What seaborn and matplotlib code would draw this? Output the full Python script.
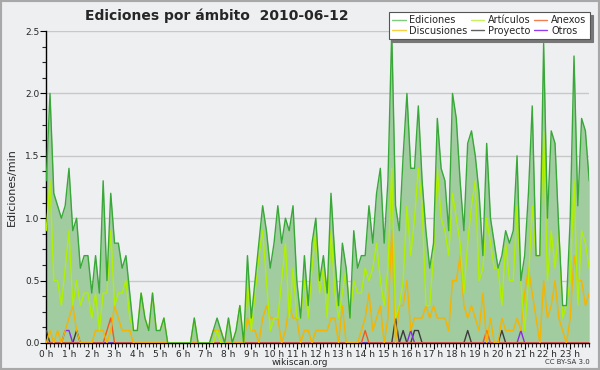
import seaborn as sns
import matplotlib.pyplot as plt
import matplotlib.ticker as ticker
import pandas as pd
from matplotlib.lines import Line2D
from matplotlib.patches import Rectangle

# one value every 10 minutes, 144 per day (ediciones por minuto)
ediciones = [
    1.3, 2.0, 1.2, 1.1, 1.0, 1.1, 1.4, 0.9, 1.0, 0.6, 0.7, 0.7,
    0.4, 0.7, 0.4, 1.3, 0.5, 1.2, 0.8, 0.8, 0.6, 0.7, 0.4, 0.1,
    0.1, 0.4, 0.2, 0.1, 0.4, 0.1, 0.1, 0.2, 0.0, 0.0, 0.0, 0.0,
    0.0, 0.0, 0.0, 0.2, 0.0, 0.0, 0.0, 0.0, 0.1, 0.2, 0.1, 0.0,
    0.2, 0.0, 0.1, 0.3, 0.0, 0.7, 0.2, 0.5, 0.8, 1.1, 0.9, 0.6,
    0.8, 1.1, 0.8, 1.0, 0.9, 1.1, 0.5, 0.2, 0.7, 0.3, 0.8, 1.0,
    0.5, 0.7, 0.4, 1.2, 0.7, 0.3, 0.8, 0.6, 0.2, 0.9, 0.6, 0.7,
    0.7, 1.1, 0.8, 1.2, 1.4, 0.8, 1.3, 2.5, 1.1, 0.9, 1.5, 2.0,
    1.4, 1.4, 1.9, 1.3, 0.9, 0.6, 0.8, 1.8, 1.4, 1.3, 0.9, 2.0,
    1.8, 1.3, 0.9, 1.6, 1.7, 1.5, 1.2, 0.7, 1.6, 1.0, 0.8, 0.6,
    0.7, 0.9, 0.8, 0.9, 1.5, 0.5, 0.7, 1.2, 1.9, 0.7, 0.7, 2.4,
    1.0, 1.7, 1.6, 0.9, 0.3, 0.3, 1.0, 2.3, 1.1, 1.8, 1.7, 1.3,
]
articulos = [
    0.9, 1.3, 0.5, 0.5, 0.3, 0.6, 0.9, 0.3, 0.5, 0.3, 0.4, 0.4,
    0.2, 0.4, 0.1, 0.4, 0.4, 0.9, 0.3, 0.4, 0.4, 0.5, 0.2, 0.1,
    0.1, 0.4, 0.2, 0.1, 0.4, 0.1, 0.1, 0.2, 0.0, 0.0, 0.0, 0.0,
    0.0, 0.0, 0.0, 0.2, 0.0, 0.0, 0.0, 0.0, 0.0, 0.1, 0.0, 0.0,
    0.2, 0.0, 0.1, 0.3, 0.0, 0.5, 0.1, 0.4, 0.7, 0.9, 0.5, 0.1,
    0.2, 0.2, 0.5, 0.8, 0.2, 0.6, 0.2, 0.2, 0.5, 0.2, 0.6, 0.9,
    0.4, 0.6, 0.2, 0.9, 0.4, 0.2, 0.4, 0.6, 0.2, 0.5, 0.4, 0.4,
    0.6, 0.5, 0.6, 0.8, 0.5, 0.3, 0.6, 1.4, 0.2, 0.3, 0.5, 1.1,
    0.7, 1.0, 1.4, 1.1, 0.3, 0.3, 0.7, 1.4, 1.0, 0.9, 0.7, 1.2,
    1.0, 0.8, 0.4, 0.8, 1.1, 1.3, 0.5, 0.6, 1.0, 0.8, 0.6, 0.6,
    0.3, 0.8, 0.5, 0.5, 1.1, 0.5, 0.1, 0.5, 1.1, 0.7, 0.7, 1.7,
    0.5, 0.9, 0.6, 0.9, 0.2, 0.3, 0.5, 1.3, 0.3, 0.9, 0.8, 0.6,
]
discusiones = [
    0.0, 0.1, 0.0, 0.1, 0.0, 0.1, 0.2, 0.3, 0.1, 0.0, 0.0, 0.0,
    0.0, 0.1, 0.1, 0.1, 0.0, 0.1, 0.3, 0.2, 0.1, 0.1, 0.1, 0.0,
    0.0, 0.0, 0.0, 0.0, 0.0, 0.0, 0.0, 0.0, 0.0, 0.0, 0.0, 0.0,
    0.0, 0.0, 0.0, 0.0, 0.0, 0.0, 0.0, 0.0, 0.1, 0.1, 0.1, 0.0,
    0.0, 0.0, 0.0, 0.0, 0.0, 0.2, 0.1, 0.1, 0.0, 0.2, 0.3, 0.2,
    0.2, 0.2, 0.0, 0.1, 0.3, 0.2, 0.2, 0.0, 0.1, 0.1, 0.0, 0.1,
    0.1, 0.1, 0.1, 0.2, 0.2, 0.0, 0.3, 0.0, 0.0, 0.0, 0.0, 0.1,
    0.2, 0.4, 0.1, 0.2, 0.3, 0.0, 0.2, 0.9, 0.0, 0.3, 0.3, 0.5,
    0.1, 0.2, 0.2, 0.2, 0.3, 0.2, 0.3, 0.2, 0.2, 0.2, 0.1, 0.5,
    0.5, 0.7, 0.3, 0.2, 0.3, 0.2, 0.1, 0.4, 0.0, 0.2, 0.0, 0.0,
    0.2, 0.1, 0.1, 0.1, 0.2, 0.1, 0.4, 0.6, 0.4, 0.2, 0.0, 0.5,
    0.2, 0.3, 0.5, 0.2, 0.1, 0.0, 0.2, 0.7, 0.5, 0.5, 0.3, 0.4,
]
anexos = [
    0, 0, 0, 0, 0, 0, 0, 0, 0, 0, 0, 0,
    0, 0, 0, 0, 0.1, 0.2, 0, 0, 0, 0, 0, 0,
    0, 0, 0, 0, 0, 0, 0, 0, 0, 0, 0, 0,
    0, 0, 0, 0, 0, 0, 0, 0, 0, 0, 0, 0,
    0, 0, 0, 0, 0, 0, 0, 0, 0, 0, 0, 0,
    0, 0, 0, 0, 0, 0, 0, 0, 0, 0, 0, 0,
    0, 0, 0, 0, 0, 0, 0, 0, 0, 0, 0, 0,
    0.1, 0, 0, 0, 0, 0, 0, 0, 0, 0, 0, 0,
    0, 0, 0, 0, 0, 0, 0, 0, 0, 0, 0, 0,
    0, 0, 0, 0, 0, 0, 0, 0, 0.1, 0, 0, 0,
    0, 0, 0, 0, 0, 0, 0, 0, 0, 0, 0, 0,
    0, 0, 0, 0, 0, 0, 0, 0, 0, 0, 0, 0,
]
proyecto = [
    0.1, 0, 0, 0, 0, 0, 0, 0, 0.1, 0, 0, 0,
    0, 0, 0, 0, 0, 0, 0, 0, 0, 0, 0, 0,
    0, 0, 0, 0, 0, 0, 0, 0, 0, 0, 0, 0,
    0, 0, 0, 0, 0, 0, 0, 0, 0, 0, 0, 0,
    0, 0, 0, 0, 0, 0, 0, 0, 0, 0, 0, 0,
    0, 0, 0, 0, 0, 0, 0, 0, 0, 0, 0, 0,
    0, 0, 0, 0, 0, 0, 0, 0, 0, 0, 0, 0,
    0, 0, 0, 0, 0, 0, 0, 0, 0.2, 0, 0.1, 0,
    0, 0.1, 0.1, 0, 0, 0, 0, 0, 0, 0, 0, 0,
    0, 0, 0, 0.1, 0, 0, 0, 0, 0, 0, 0, 0,
    0.1, 0, 0, 0, 0, 0, 0, 0, 0, 0, 0, 0,
    0, 0, 0, 0, 0, 0, 0, 0, 0, 0, 0, 0,
]
otros = [
    0, 0, 0, 0, 0, 0.1, 0.1, 0, 0, 0, 0, 0,
    0, 0, 0, 0, 0, 0, 0, 0, 0, 0, 0, 0,
    0, 0, 0, 0, 0, 0, 0, 0, 0, 0, 0, 0,
    0, 0, 0, 0, 0, 0, 0, 0, 0, 0, 0, 0,
    0, 0, 0, 0, 0, 0, 0, 0, 0, 0, 0, 0,
    0, 0, 0, 0, 0, 0, 0, 0, 0, 0, 0, 0,
    0, 0, 0, 0, 0, 0, 0, 0, 0, 0, 0, 0,
    0, 0, 0, 0, 0, 0, 0, 0, 0, 0, 0, 0,
    0.1, 0, 0, 0, 0, 0, 0, 0, 0, 0, 0, 0,
    0, 0, 0, 0, 0, 0, 0, 0, 0, 0, 0, 0,
    0, 0, 0, 0, 0, 0.1, 0, 0, 0, 0, 0, 0,
    0, 0, 0, 0, 0, 0, 0, 0, 0, 0, 0, 0,
]
hour_labels = [f"{h} h" for h in range(24)]

BG = '#eeeff1'
line_colors = {'Proyecto': '#3c3c3c', 'Otros': '#8a2be2', 'Anexos': '#f05a1e',
               'Discusiones': '#f5b400', 'Artículos': '#b0f000',
               'Ediciones': '#38a838'}
legend_colors = {'Ediciones': '#7fcc7f', 'Discusiones': '#f8d040',
                 'Artículos': '#c8f060', 'Proyecto': '#606060',
                 'Anexos': '#f08050', 'Otros': '#9040f0'}

series = {'Ediciones': ediciones, 'Artículos': articulos,
          'Discusiones': discusiones, 'Anexos': anexos,
          'Proyecto': proyecto, 'Otros': otros}
x = list(range(len(ediciones)))
df = pd.concat([pd.DataFrame({'x': x, 'v': vals, 'serie': name})
                for name, vals in series.items()], ignore_index=True)

sns.set_style('ticks')
plt.rcParams['font.family'] = ['DejaVu Sans']

fig = plt.figure(figsize=(6, 3.7), dpi=100, facecolor=BG)
ax = fig.add_axes([0.077, 0.073, 0.905, 0.843])
ax.set_facecolor(BG)

ax.fill_between(x, ediciones, 0, color='#a0cca0', lw=0, zorder=1)
sns.lineplot(data=df, x='x', y='v', hue='serie', palette=line_colors,
             hue_order=['Proyecto', 'Otros', 'Anexos', 'Discusiones',
                        'Artículos', 'Ediciones'],
             linewidth=1.0, legend=False, ax=ax, zorder=3)

ax.set_xlim(0, 143)
ax.set_ylim(0, 2.5)
ax.yaxis.grid(True, color='#c8c8c8', lw=1)
ax.set_axisbelow(True)
ax.yaxis.set_major_locator(ticker.MultipleLocator(0.5))
ax.yaxis.set_minor_locator(ticker.MultipleLocator(0.125))
ax.yaxis.set_major_formatter(ticker.FormatStrFormatter('%.1f'))
ax.set_xticks(range(0, 144, 6))
ax.set_xticklabels(hour_labels)
ax.xaxis.set_minor_locator(ticker.MultipleLocator(1))
ax.tick_params(axis='both', which='major', labelsize=6.5, length=4,
               width=0.8, color='black', pad=1)
ax.tick_params(axis='both', which='minor', length=3, width=0.8)
for s in ['top', 'right']:
    ax.spines[s].set_visible(False)
for s in ['left', 'bottom']:
    ax.spines[s].set_color('black')
    ax.spines[s].set_linewidth(1)
ax.set_xlabel('')
ax.set_ylabel('Ediciones/min', fontsize=8, labelpad=6)

fig.text(0.142, 0.945, 'Ediciones por ámbito  2010-06-12', fontsize=10,
         fontweight='bold')
fig.text(0.5, 0.021, 'wikiscan.org', fontsize=6.5, ha='center', va='center')
fig.text(0.983, 0.021, 'CC BY-SA 3.0', fontsize=5, ha='right', va='center',
         color='#333333')

order = ['Ediciones', 'Discusiones', 'Artículos', 'Proyecto', 'Anexos', 'Otros']
handles = [Line2D([], [], color=legend_colors[n], lw=1) for n in order]
leg = ax.legend(handles, order, ncol=3, loc='upper right',
                bbox_to_anchor=(0.983, 0.968), bbox_transform=fig.transFigure,
                borderaxespad=0, fontsize=7, frameon=True, fancybox=False,
                handlelength=1.4, handletextpad=0.4, columnspacing=0.3,
                labelspacing=0.05, borderpad=0.35,
                shadow={'color': '#777777', 'alpha': 1})
leg.get_frame().set_edgecolor('#555555')
leg.get_frame().set_facecolor('white')
leg.get_frame().set_linewidth(0.8)
leg.set_zorder(10)

fig.patches.append(Rectangle((0, 0), 1, 1, transform=fig.transFigure,
                             fill=False, edgecolor='#a8a8a8', lw=3))

plt.savefig('out.png', dpi=100, facecolor=BG)
